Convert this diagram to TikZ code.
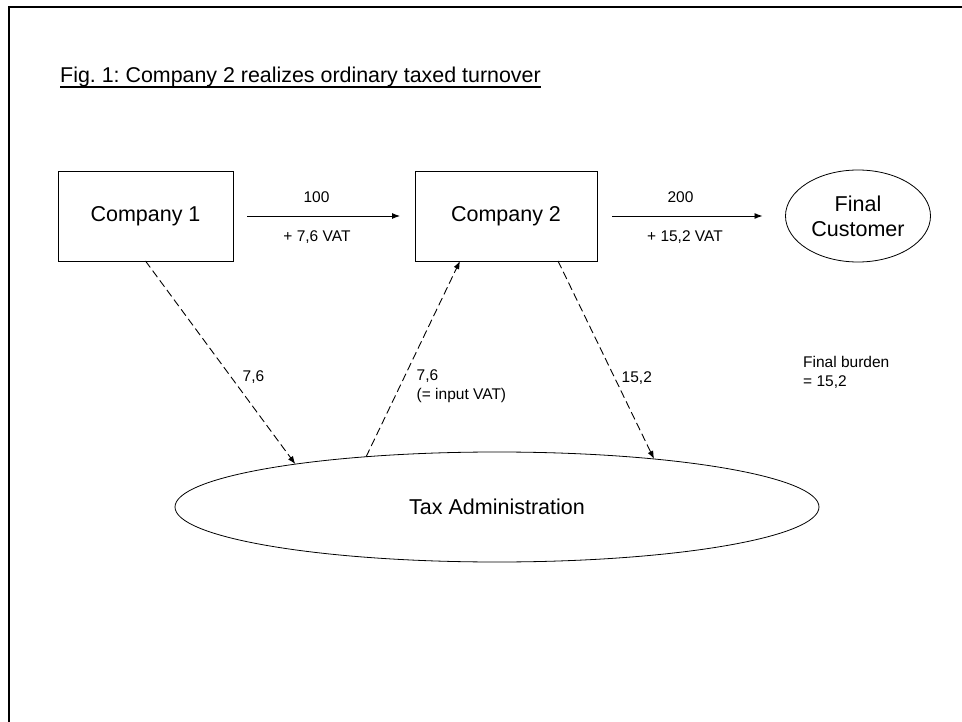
\documentclass[tikz,border=0pt]{standalone}
\usepackage{fontspec}
\setmainfont{Liberation Sans}
\usetikzlibrary{arrows.meta,shapes.geometric}
\frenchspacing

\begin{document}
\begin{tikzpicture}[x=1pt, y=-1pt, >={Latex[length=8pt,width=6pt]},
	firm/.style={draw, line width=0.8pt, minimum height=90pt, inner sep=0pt, outer sep=0pt, font=\fontsize{21.5}{25}\selectfont},
	party/.style={draw, ellipse, line width=0.8pt, inner sep=0pt, outer sep=0pt, align=center, font=\fontsize{21.5}{25}\selectfont},
	small/.style={inner sep=0pt, align=left, font=\fontsize{15.5}{19}\selectfont},
	flow/.style={->, line width=0.9pt},
	vat/.style={->, line width=0.9pt, dash pattern=on 8pt off 4pt}]

\useasboundingbox (0,0) rectangle (962,722);

% Frame
\draw[line width=2pt] (8.5,722) -- (8.5,7.5) -- (962,7.5);

% Title
\node[anchor=base west, inner sep=0pt, font=\fontsize{21.4}{25}\selectfont] (title) at (60,83) {Fig. 1: Company 2 realizes ordinary taxed turnover};
\draw[line width=1.3pt] ([yshift=-4pt]title.base west) -- ([yshift=-4pt]title.base east);

% Companies, customer and tax office
\node[firm, minimum width=175pt] (c1) at (145.5,216) {Company 1};
\node[firm, minimum width=182pt] (c2) at (506,216) {Company 2};
\node[party, minimum width=145pt, minimum height=92pt] (cust) at (858,216) {Final\\Customer};
\node[party, minimum width=644pt, minimum height=110pt] (tax) at (497,507) {Tax Administration};

% Deliveries
\draw[flow, shorten <=14pt, shorten >=15pt] (c1) -- (c2);
\node[small, anchor=base] (price1) at (316.5,203) {100};
\node[small, anchor=base] (vat1) at (317,242) {+ 7,6 VAT};

\draw[flow, shorten <=15pt, shorten >=23pt] (c2) -- (cust);
\node[small, anchor=base] (price2) at (680.5,203) {200};
\node[small, anchor=base] (vat2) at (685,242) {+ 15,2 VAT};

% VAT payments
\draw[vat] (c1.south) -- (tax.168.3);
\draw[vat] (tax.159.7) -- ([xshift=-46pt]c2.south);
\draw[vat] ([xshift=52pt]c2.south) -- (tax.17.8);

\node[small, anchor=base west] (pay1) at (242.5,381.5) {7,6};
\node[small, anchor=north west] (refund) at (416.5,369) {7,6\\(= input VAT)};
\node[small, anchor=base west] (pay2) at (621.5,382) {15,2};

% Burden
\node[small, anchor=north west] (burden) at (803,356) {Final burden\\= 15,2};

\end{tikzpicture}
\end{document}
